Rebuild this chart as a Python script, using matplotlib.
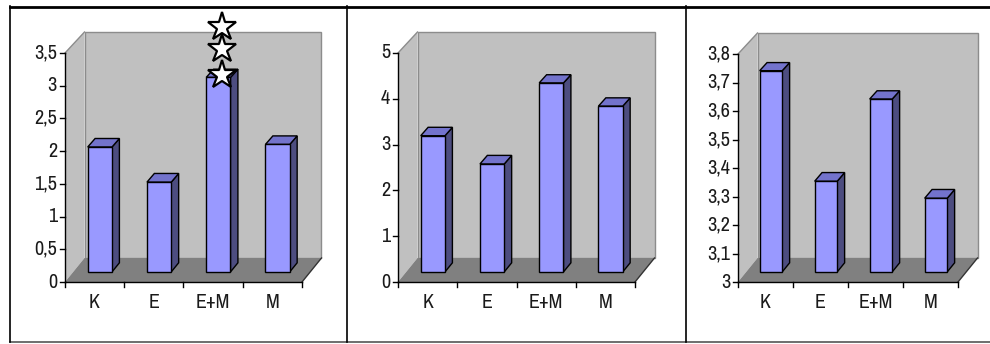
import matplotlib
matplotlib.use("Agg")
import matplotlib.pyplot as plt
from matplotlib import font_manager
from matplotlib.patches import Polygon

# ---- data -------------------------------------------------------------
categories = ["K", "E", "E+M", "M"]
values_a = [1.92, 1.38, 2.99, 1.96]
values_b = [2.99, 2.37, 4.15, 3.64]
values_c = [3.71, 3.32, 3.61, 3.26]
ticks_a = [0, 0.5, 1, 1.5, 2, 2.5, 3, 3.5]
ticks_b = [0, 1, 2, 3, 4, 5]
ticks_c = [3.0, 3.1, 3.2, 3.3, 3.4, 3.5, 3.6, 3.7, 3.8]
stars_a = {"E+M": 3}          # significance stars above a column

# ---- fonts ------------------------------------------------------------
available = {f.name for f in font_manager.fontManager.ttflist}
narrow = [f for f in ("Archivo Narrow", "PT Sans Narrow", "Roboto Condensed") if f in available]
plt.rcParams["font.family"] = narrow[:1] + ["Liberation Sans", "DejaVu Sans"]

# ---- layout (pixels) --------------------------------------------------
W, H = 990, 344
BASE = 282                    # baseline of the front plane
DEPTH_X = 19.5                # oblique depth of the floor / walls
DEPTH_Y_BOTTOM = 24
DEPTH_Y_TOP = 21
BAR_T0, BAR_T1 = 0.42, 0.80   # column depth range (fraction of floor depth)
BAR_WIDTH = 0.41              # in category units
BAR_SHIFT = 0.45              # column centre inside its category
FONT_SIZE = 14.5
TICK_LEN = 5

WALL = "#C0C0C0"
WALL_EDGE = "#8C8C8C"
FLOOR = "#808080"
FRONT = "#9999FF"
TOP = "#7373CC"
SIDE = "#4D4D80"
TEXT = "#1a1a1a"

panels = [
    dict(values=values_a, ticks=ticks_a, x0=65, x1=302, top=53, stars=stars_a),
    dict(values=values_b, ticks=ticks_b, x0=398, x1=635, top=53, stars={}),
    dict(values=values_c, ticks=ticks_c, x0=738, x1=958, top=54, stars={}),
]

fig = plt.figure(figsize=(W / 100, H / 100), dpi=100)

# table-like frame around the three charts
bg = fig.add_axes([0, 0, 1, 1], zorder=-5)
bg.set_xlim(0, W)
bg.set_ylim(H, 0)
bg.axis("off")
bg.plot([9.5, W], [6.5, 6.5], color="black", lw=2)
bg.plot([9.5, W], [342, 342], color="#555555", lw=1.2)
for xs in (9.5, 347, 686):
    bg.plot([xs, xs], [6, 342], color="black", lw=1.2)


def fmt(v):
    return f"{v:g}".replace(".", ",")


def draw_panel(p):
    x0, x1, top = p["x0"], p["x1"], p["top"]
    ticks = p["ticks"]
    ymin, ymax = ticks[0], ticks[-1]
    ax = fig.add_axes([x0 / W, (H - BASE) / H, (x1 - x0) / W, (BASE - top) / H])
    ax.set_xlim(0, len(categories))
    ax.set_ylim(ymin, ymax)
    ax.axis("off")
    ux = len(categories) / (x1 - x0)       # category units per pixel
    uy = (ymax - ymin) / (BASE - top)      # value units per pixel

    def proj(x, v, t):
        frac = (v - ymin) / (ymax - ymin)
        dy = DEPTH_Y_BOTTOM + (DEPTH_Y_TOP - DEPTH_Y_BOTTOM) * frac
        return (x + t * DEPTH_X * ux, v + t * dy * uy)

    n = len(categories)
    kw = dict(clip_on=False)
    # side wall, back wall, floor
    ax.add_patch(Polygon([proj(0, ymin, 0), proj(0, ymax, 0), proj(0, ymax, 1), proj(0, ymin, 1)],
                         closed=True, fc=WALL, ec="none", zorder=1, **kw))
    ax.add_patch(Polygon([proj(0, ymin, 1), proj(n, ymin, 1), proj(n, ymax, 1), proj(0, ymax, 1)],
                         closed=True, fc=WALL, ec=WALL_EDGE, lw=1, zorder=1, **kw))
    ax.add_patch(Polygon([proj(0, ymin, 0), proj(n, ymin, 0), proj(n, ymin, 1), proj(0, ymin, 1)],
                         closed=True, fc=FLOOR, ec="none", zorder=2, **kw))
    a, b = proj(0, ymax, 0), proj(0, ymax, 1)
    ax.plot([a[0], b[0]], [a[1], b[1]], color=WALL_EDGE, lw=1, zorder=2, **kw)
    a, b = proj(n, ymin, 0), proj(n, ymin, 1)
    ax.plot([a[0], b[0]], [a[1], b[1]], color="#333333", lw=1, zorder=3, **kw)

    # columns
    for i, (cat, v) in enumerate(zip(categories, p["values"])):
        xl = i + BAR_SHIFT - BAR_WIDTH / 2
        xr = xl + BAR_WIDTH
        faces = [
            ([proj(xr, ymin, BAR_T0), proj(xr, ymin, BAR_T1), proj(xr, v, BAR_T1), proj(xr, v, BAR_T0)], SIDE),
            ([proj(xl, v, BAR_T0), proj(xr, v, BAR_T0), proj(xr, v, BAR_T1), proj(xl, v, BAR_T1)], TOP),
            ([proj(xl, ymin, BAR_T0), proj(xr, ymin, BAR_T0), proj(xr, v, BAR_T0), proj(xl, v, BAR_T0)], FRONT),
        ]
        for verts, col in faces:
            ax.add_patch(Polygon(verts, closed=True, fc=col, ec="black", lw=1,
                                 joinstyle="miter", zorder=4, **kw))
        count = p["stars"].get(cat, 0)
        if count:
            cx, cy = proj(i + BAR_SHIFT, v, (BAR_T0 + BAR_T1) / 2)
            offsets = [-2, 24, 46][:count]
            ax.plot([cx] * count, [cy + o * uy for o in offsets], ls="none", marker="*",
                    ms=21, mfc="white", mec="black", mew=1.6, zorder=6, **kw)

    # value axis
    ax.plot([0, 0], [ymin, ymax], color="black", lw=1, zorder=5, **kw)
    for t in ticks:
        ax.plot([-TICK_LEN * ux, 0], [t, t], color="black", lw=1, zorder=5, **kw)
        ax.text(-(TICK_LEN + 3) * ux, t, fmt(t), ha="right", va="center",
                fontsize=FONT_SIZE, color=TEXT, zorder=5)

    # category axis
    ax.plot([0, n], [ymin, ymin], color="black", lw=1, zorder=5, **kw)
    for k in range(n + 1):
        ax.plot([k, k], [ymin, ymin - TICK_LEN * uy], color="black", lw=1, zorder=5, **kw)
    for i, cat in enumerate(categories):
        ax.text(i + 0.5, ymin - 21 * uy, cat, ha="center", va="center",
                fontsize=FONT_SIZE, color=TEXT, zorder=5)


for p in panels:
    draw_panel(p)

fig.savefig("out.png", dpi=100)
